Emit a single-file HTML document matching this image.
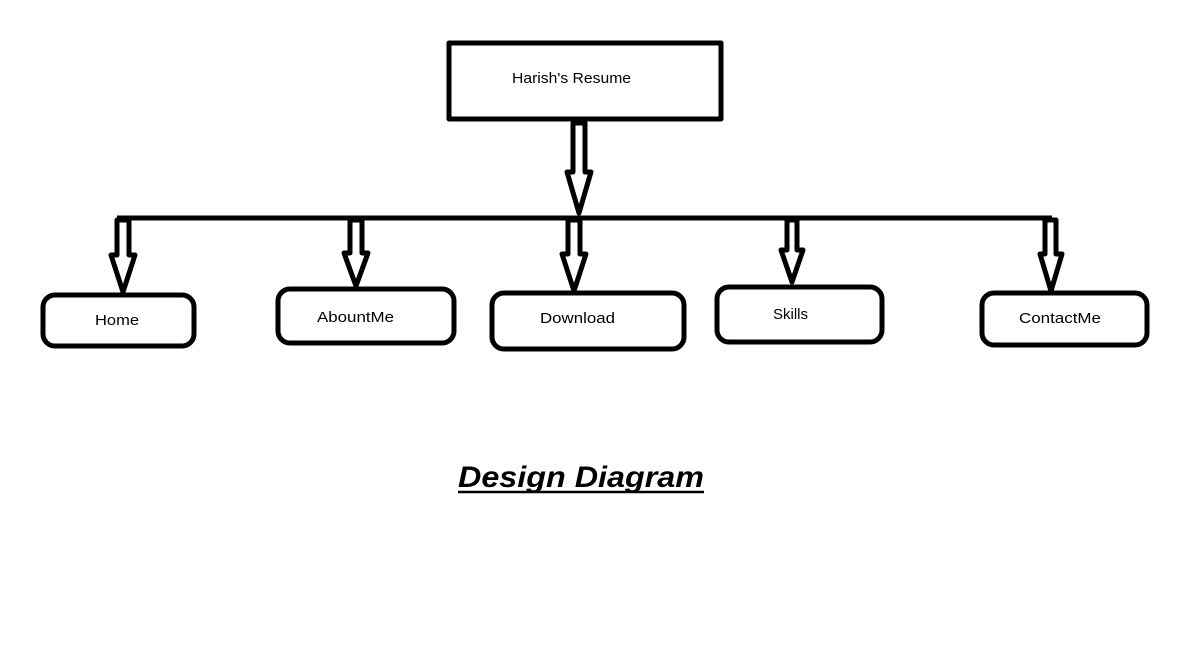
<!DOCTYPE html>
<html><head><meta charset="utf-8"><style>
html,body{margin:0;padding:0;background:#fff;}
svg{display:block;}
text{font-family:"Liberation Sans",sans-serif;}
</style></head><body>
<svg width="1180" height="648" viewBox="0 0 1180 648" xmlns="http://www.w3.org/2000/svg">
<g fill="none" stroke="#000" stroke-width="5" stroke-linejoin="round">
<rect x="449" y="43" width="272" height="76"/>
<polygon points="573,123 585,123 585,172 591,172 579,213 567,172 573,172" fill="#fff"/>
<line x1="117" y1="218" x2="1052" y2="218"/>
<polygon points="117,220 129,220 129,255 135,255 123,292 111,255 117,255" fill="#fff"/>
<polygon points="350,220 362,220 362,253 368,253 356,286 344,253 350,253" fill="#fff"/>
<polygon points="568,220 580,220 580,254 586,254 574,291 562,254 568,254" fill="#fff"/>
<polygon points="787,220 797,220 797,250 803,250 792,282 781,250 787,250" fill="#fff"/>
<polygon points="1045,220 1056,220 1056,254 1062,254 1051,291 1040,254 1045,254" fill="#fff"/>
<rect x="43" y="295" width="151" height="51" rx="12"/>
<rect x="278" y="289" width="176" height="54" rx="12"/>
<rect x="492" y="293" width="192" height="56" rx="12"/>
<rect x="717" y="287" width="165" height="55" rx="12"/>
<rect x="982" y="293" width="165" height="52" rx="12"/>
</g>
<g font-size="15" fill="#000">
<text x="512" y="83" textLength="119" lengthAdjust="spacingAndGlyphs">Harish's Resume</text>
<text x="95" y="325" textLength="44" lengthAdjust="spacingAndGlyphs">Home</text>
<text x="317" y="322" textLength="77" lengthAdjust="spacingAndGlyphs">AbountMe</text>
<text x="540" y="323" textLength="75" lengthAdjust="spacingAndGlyphs">Download</text>
<text x="773" y="319" textLength="35" lengthAdjust="spacingAndGlyphs">Skills</text>
<text x="1019" y="323" textLength="82" lengthAdjust="spacingAndGlyphs">ContactMe</text>
</g>
<text x="458" y="487" font-size="30" font-weight="bold" font-style="italic" textLength="246" lengthAdjust="spacingAndGlyphs">Design Diagram</text>
<line x1="458" y1="492" x2="704" y2="492" stroke="#000" stroke-width="2.5"/>
</svg>
</body></html>
